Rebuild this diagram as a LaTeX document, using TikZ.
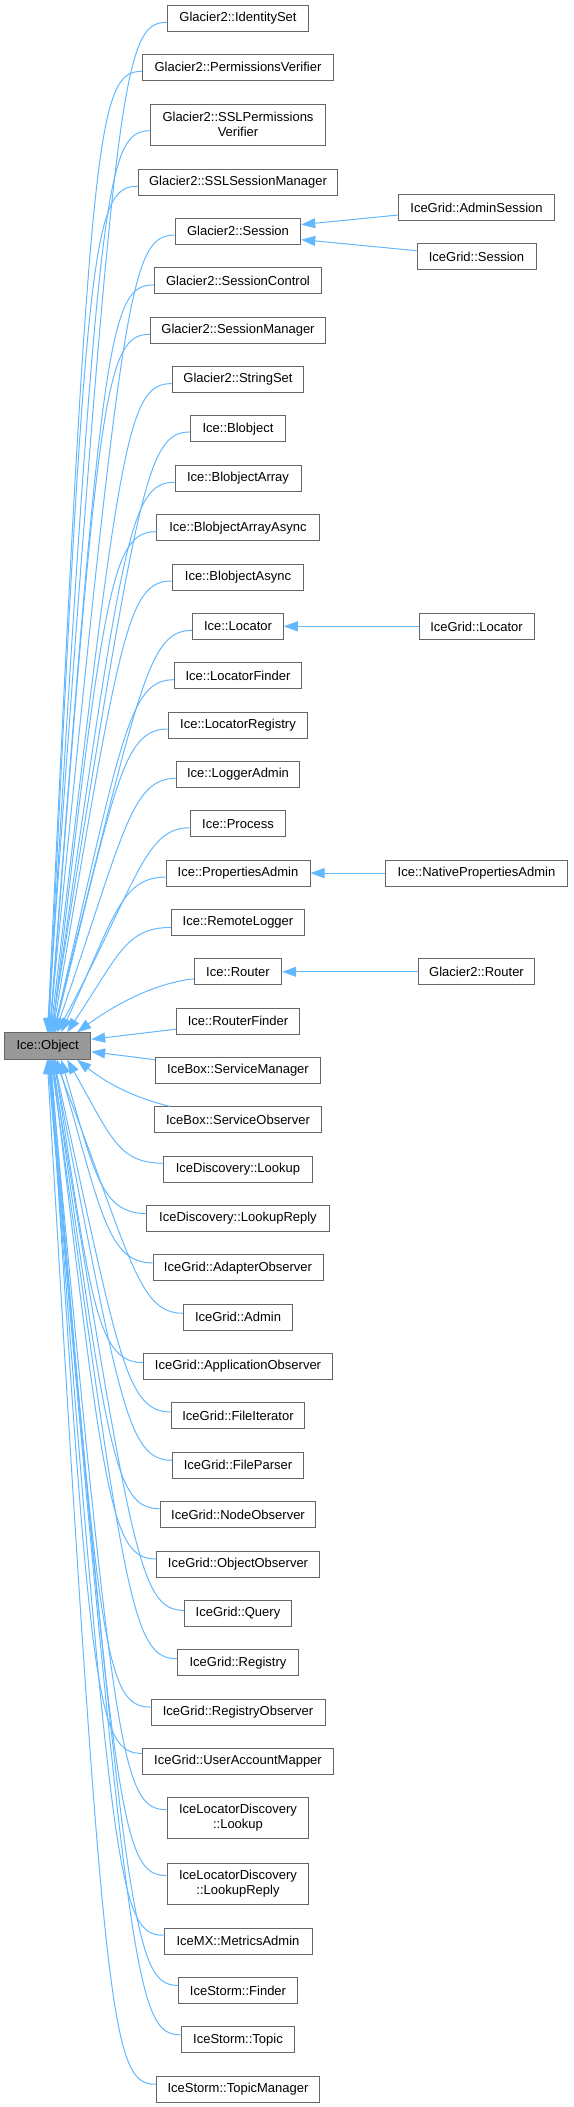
\documentclass[tikz,border=0pt]{standalone}
\usepackage{fontspec}
\setmainfont{Liberation Sans}
\usetikzlibrary{arrows.meta}
\definecolor{edgec}{HTML}{63B8FF}
\definecolor{boxc}{HTML}{666666}
\definecolor{objc}{HTML}{999999}
\newcommand\upE[4]{\draw[edge] ([yshift=-#4pt]#1.west) .. controls +(-45,0) and ([xshift=-52pt,yshift=-#3pt]#1.west) .. ([xshift=#2pt]obj.north west);}
\newcommand\dnE[4]{\draw[edge] ([yshift=#4pt]#1.west) .. controls +(-45,0) and ([xshift=-52pt,yshift=#3pt]#1.west) .. ([xshift=#2pt]obj.south west);}
\begin{document}
\begin{tikzpicture}[x=1pt,y=-1pt,
  box/.style={draw=boxc, fill=white, line width=1pt, minimum height=26pt, inner sep=0pt, align=center, font=\fontsize{13}{15}\selectfont},
  tall/.style={minimum height=41pt},
  edge/.style={draw=edgec, line width=1pt, -{Triangle[length=14pt,width=10pt]}}]
\useasboundingbox (0,0) rectangle (573,2107);
% root
\node[box, fill=objc, minimum width=86pt, minimum height=26.6pt] (obj) at (47.7,1046) {Ice::Object};
% left column
\node[box, minimum width=141pt]   (gids)  at (238,18.3)   {Glacier2::IdentitySet};
\node[box, minimum width=190.7pt] (gpv)   at (238,67.3)   {Glacier2::PermissionsVerifier};
\node[box, tall, minimum width=174.3pt] (gsslpv) at (238,124.7) {Glacier2::SSLPermissions\\Verifier};
\node[box, minimum width=199.5pt] (gsslsm) at (238,182.2)  {Glacier2::SSLSessionManager};
\node[box, minimum width=125.5pt] (gses)  at (238,231.1)  {Glacier2::Session};
\node[box, minimum width=167.4pt] (gsc)   at (238,280.9)  {Glacier2::SessionControl};
\node[box, minimum width=174.6pt] (gsm)   at (238,330.25) {Glacier2::SessionManager};
\node[box, minimum width=131.7pt] (gss)   at (238,379.6)  {Glacier2::StringSet};
\node[box, minimum width=94.6pt]  (iblob) at (238,428.95) {Ice::Blobject};
\node[box, minimum width=126pt]   (iba)   at (238,478.3)  {Ice::BlobjectArray};
\node[box, minimum width=162.3pt] (ibaa)  at (238,527.65) {Ice::BlobjectArrayAsync};
\node[box, minimum width=131.7pt] (ibas)  at (238,577.0)  {Ice::BlobjectAsync};
\node[box, minimum width=90.6pt]  (iloc)  at (238,626.35) {Ice::Locator};
\node[box, minimum width=127pt]   (ilf)   at (238,675.7)  {Ice::LocatorFinder};
\node[box, minimum width=139.7pt] (ilr)   at (238,725.05) {Ice::LocatorRegistry};
\node[box, minimum width=123.7pt] (ila)   at (238,774.4)  {Ice::LoggerAdmin};
\node[box, minimum width=95.7pt]  (iproc) at (238,823.75) {Ice::Process};
\node[box, minimum width=144pt]   (ipa)   at (238,873.1)  {Ice::PropertiesAdmin};
\node[box, minimum width=133pt]   (irl)   at (238,922.45) {Ice::RemoteLogger};
\node[box, minimum width=87.4pt]  (irt)   at (238,971.8)  {Ice::Router};
\node[box, minimum width=123pt]   (irf)   at (238,1021.15) {Ice::RouterFinder};
\node[box, minimum width=164.6pt] (bsm)   at (238,1070.5) {IceBox::ServiceManager};
\node[box, minimum width=167.4pt] (bso)   at (238,1119.85) {IceBox::ServiceObserver};
\node[box, minimum width=148.6pt] (dlk)   at (238,1169.2) {IceDiscovery::Lookup};
\node[box, minimum width=182.6pt] (dlr)   at (238,1218.55) {IceDiscovery::LookupReply};
\node[box, minimum width=170pt]   (gao)   at (238,1267.9) {IceGrid::AdapterObserver};
\node[box, minimum width=109pt]   (gadm)  at (238,1317.25) {IceGrid::Admin};
\node[box, minimum width=188.6pt] (gapo)  at (238,1366.6) {IceGrid::ApplicationObserver};
\node[box, minimum width=133.7pt] (gfi)   at (238,1415.95) {IceGrid::FileIterator};
\node[box, minimum width=130.6pt] (gfp)   at (238,1465.3) {IceGrid::FileParser};
\node[box, minimum width=155.7pt] (gno)   at (238,1514.65) {IceGrid::NodeObserver};
\node[box, minimum width=162.3pt] (goo)   at (238,1564.0) {IceGrid::ObjectObserver};
\node[box, minimum width=107pt]   (gq)    at (238,1613.35) {IceGrid::Query};
\node[box, minimum width=121pt]   (greg)  at (238,1662.7) {IceGrid::Registry};
\node[box, minimum width=174pt]   (gro)   at (238,1712.05) {IceGrid::RegistryObserver};
\node[box, minimum width=190.6pt] (guam)  at (238,1761.4) {IceGrid::UserAccountMapper};
\node[box, tall, minimum width=141.7pt] (llk) at (238,1817.7) {IceLocatorDiscovery\\::Lookup};
\node[box, tall, minimum width=141.7pt] (llr) at (238,1883.5) {IceLocatorDiscovery\\::LookupReply};
\node[box, minimum width=148pt]   (mxma)  at (238,1941.2) {IceMX::MetricsAdmin};
\node[box, minimum width=118.3pt] (sf)    at (238,1990.4) {IceStorm::Finder};
\node[box, minimum width=113.7pt] (st)    at (238,2039.8) {IceStorm::Topic};
\node[box, minimum width=163.3pt] (stm)   at (238,2089.2) {IceStorm::TopicManager};
% right column
\node[box, minimum width=155.6pt] (igas)  at (476.5,207.5) {IceGrid::AdminSession};
\node[box, minimum width=119pt]   (igs)   at (476.5,256.7) {IceGrid::Session};
\node[box, minimum width=115pt]   (igloc) at (476.5,626.35) {IceGrid::Locator};
\node[box, minimum width=181.6pt] (inpa)  at (476.5,873.1) {Ice::NativePropertiesAdmin};
\node[box, minimum width=116.7pt] (grt)   at (476.5,971.8) {Glacier2::Router};
% right edges
\draw[edge] ([yshift=-7.5pt]igas.west) -- ([yshift=6.5pt]gses.east);
\draw[edge] ([yshift=6pt]igs.west) -- ([yshift=-8.5pt]gses.east);
\draw[edge] (igloc.west) -- (iloc.east);
\draw[edge] (inpa.west) -- (ipa.east);
\draw[edge] (grt.west) -- (irt.east);
% edges to Ice::Object from above
\upE{gids}{43}{60}{4}
\upE{gpv}{43.5}{60}{4}
\upE{gsslpv}{44}{60}{6}
\upE{gsslsm}{44.5}{60}{4}
\upE{gses}{45}{60}{4}
\upE{gsc}{45.5}{60}{4}
\upE{gsm}{46}{60}{4}
\upE{gss}{46.5}{60}{4}
\upE{iblob}{47}{60}{3}
\upE{iba}{47.5}{60}{4}
\upE{ibaa}{48}{60}{4}
\upE{ibas}{48.5}{60}{4}
\upE{iloc}{49}{60}{4}
\upE{ilf}{49.5}{60}{4}
\upE{ilr}{50}{60}{4}
\upE{ila}{51}{60}{4}
\upE{iproc}{53}{58}{4}
\upE{ipa}{57}{46}{4}
\upE{irl}{63}{32}{5}
\draw[edge] ([yshift=-7pt]irt.west) .. controls +(-45,5) and +(30,-22) .. ([xshift=73pt]obj.north west);
\draw[edge] ([yshift=-8pt]irf.west) -- ([yshift=6.7pt]obj.east);
\draw[edge] ([yshift=10.8pt]bsm.west) -- ([yshift=-5.7pt]obj.east);
% edges to Ice::Object from below
\draw[edge] ([xshift=16pt]bso.north west) .. controls +(-40,-10) and +(28,22) .. ([xshift=73pt]obj.south west);
\dnE{dlk}{63}{32}{6}
\dnE{dlr}{57}{46}{5}
\dnE{gao}{53}{58}{5}
\dnE{gadm}{51}{60}{4}
\dnE{gapo}{50}{60}{4}
\dnE{gfi}{49.5}{60}{4}
\dnE{gfp}{49}{60}{5}
\dnE{gno}{48.5}{60}{6}
\dnE{goo}{48}{60}{5}
\dnE{gq}{47.5}{60}{3}
\dnE{greg}{47}{60}{4}
\dnE{gro}{46.5}{60}{5}
\dnE{guam}{46}{60}{8}
\dnE{llk}{45.5}{60}{8}
\dnE{llr}{45}{60}{8}
\dnE{mxma}{44.5}{60}{6}
\dnE{sf}{44}{60}{5}
\dnE{st}{43.5}{60}{5}
\dnE{stm}{43}{60}{5}
\end{tikzpicture}
\end{document}
